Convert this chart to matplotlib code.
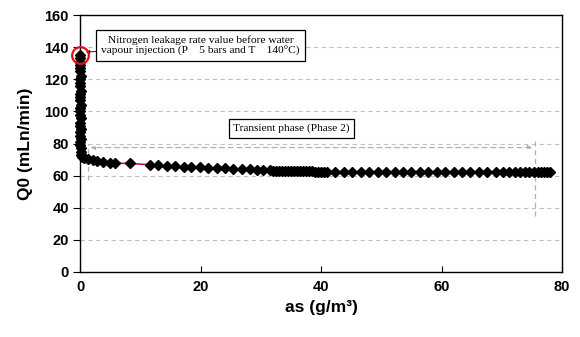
import numpy as np
import matplotlib
matplotlib.use("Agg")
import matplotlib.pyplot as plt

# vertical part at as ~ 0 (start of vapour injection)
x_start = [0.0, 0.0, 0.05, 0.0, 0.05, 0.0, 0.1, 0.0, 0.05, 0.0, 0.1, 0.0, 0.05, 0.0,
           0.1, 0.0, 0.05, 0.0, 0.1, 0.0, 0.05, 0.1, 0.0, 0.05, 0.1, 0.0, 0.05, 0.1,
           0.15, 0.2, 0.25, 0.3]
y_start = [135, 133, 131, 129, 127, 125, 122, 120, 118, 116, 113, 111, 109, 107,
           104, 102, 100, 98, 96, 93, 91, 89, 87, 85, 83, 81, 79, 77,
           75, 73, 72, 71.5]

# transient phase
x_trans = [0.6, 1.3, 2.2, 2.8, 3.8, 5.0, 5.8, 8.3, 11.6, 13.0, 14.4, 15.8, 17.2,
           18.5, 19.9, 21.3, 22.7, 24.1, 25.4, 26.8, 28.2, 29.3, 30.4,
           31.5, 32.0, 32.5, 33.0, 33.5, 34.0, 34.5, 35.0, 35.5, 36.0, 36.5,
           37.0, 37.5, 38.0, 38.5, 39.0, 39.5, 40.0, 40.5, 41.0,
           42.4, 43.8, 45.2, 46.6, 48.0, 49.4, 50.8, 52.2, 53.6, 55.0, 56.4,
           57.8, 59.2, 60.6, 62.0, 63.4, 64.8, 66.2, 67.6, 69.0, 70.2, 71.2,
           72.2, 73.0, 73.8, 74.6, 75.4, 76.0, 76.5, 77.0, 77.5, 78.0]
y_trans = [70.8, 70.2, 69.6, 69.0, 68.4, 68.0, 67.8, 67.6, 66.8, 66.4, 66.1, 65.8, 65.5,
           65.3, 65.1, 64.9, 64.7, 64.5, 64.3, 64.1, 63.9, 63.7, 63.5,
           63.3, 63.2, 63.1, 63.0, 62.9, 62.9, 62.8, 62.8, 62.7, 62.7, 62.7,
           62.6, 62.6, 62.6, 62.6, 62.5, 62.5, 62.5, 62.5, 62.5,
           62.5, 62.5, 62.5, 62.4, 62.4, 62.4, 62.4, 62.4, 62.4, 62.4, 62.4,
           62.4, 62.4, 62.4, 62.4, 62.4, 62.4, 62.4, 62.4, 62.4, 62.4, 62.4,
           62.4, 62.4, 62.4, 62.4, 62.4, 62.4, 62.4, 62.4, 62.4, 62.4]

x_ticks = [0, 20, 40, 60, 80]
y_ticks = [0, 20, 40, 60, 80, 100, 120, 140, 160]

fig = plt.figure(figsize=(5.8, 3.37), dpi=100)
ax = fig.add_axes([0.138, 0.193, 0.831, 0.762])

ax.set_xlim(0, 80)
ax.set_ylim(0, 160)
ax.set_xticks(x_ticks)
ax.set_yticks(y_ticks)
for y in y_ticks[1:-1]:
    ax.axhline(y, color='#c0c0c0', lw=0.8, ls=(0, (4, 3)), zorder=0)

# red fit line under the markers
ax.plot(x_trans, y_trans, color='#d0103a', lw=1.2, zorder=2)
ax.plot(x_start + x_trans, y_start + y_trans, ls='none', marker='D',
        color='black', markersize=5.5, zorder=3, clip_on=False)

# red circle on the initial value
ax.plot([0], [135], marker='o', ms=12, mfc='none', mec='#e0101a', mew=1.6,
        zorder=4, clip_on=False)

# annotation for the initial value
ax.annotate("Nitrogen leakage rate value before water\nvapour injection (P    5 bars and T    140°C)",
            xy=(1.0, 137), xytext=(20.0, 141), ha='center', va='center',
            fontsize=8.2, family='Liberation Serif', linespacing=1.15,
            bbox=dict(boxstyle='square,pad=0.45', fc='white', ec='black', lw=0.9),
            arrowprops=dict(arrowstyle='-|>', color='black', lw=0.6,
                            mutation_scale=5, shrinkA=0, shrinkB=0))

# transient phase marker
ax.text(35.1, 89.5, "Transient phase (Phase 2)", ha='center', va='center',
        fontsize=8.2, family='Liberation Serif',
        bbox=dict(boxstyle='square,pad=0.4', fc='white', ec='black', lw=0.9))
ax.annotate("", xy=(1.3, 77.5), xytext=(75.5, 77.5),
            arrowprops=dict(arrowstyle='<|-|>', color='#b0b0b0', lw=0.9,
                            ls=(0, (4, 3)), mutation_scale=6))
ax.plot([1.3, 1.3], [57, 80], color='#b0b0b0', lw=0.9, ls=(0, (4, 3)), zorder=1)
ax.plot([75.5, 75.5], [35, 82], color='#b0b0b0', lw=0.9, ls=(0, (4, 3)), zorder=1)

for s in ax.spines.values():
    s.set_color('black')
    s.set_linewidth(1.0)

ax.tick_params(axis='x', direction='in', length=4, pad=6)
ax.tick_params(axis='y', direction='out', length=5, pad=3)
for lab in ax.get_xticklabels() + ax.get_yticklabels():
    lab.set_fontweight('bold')
    lab.set_fontsize(10.5)
    lab.set_family('Liberation Sans')

ax.set_xlabel("as (g/m³)", fontsize=12.5, fontweight='bold',
              family='Liberation Sans', labelpad=4)
ax.set_ylabel("Q0 (mLn/min)", fontsize=12.5, fontweight='bold',
              family='Liberation Sans', labelpad=8)

fig.savefig("out.png", dpi=100)
